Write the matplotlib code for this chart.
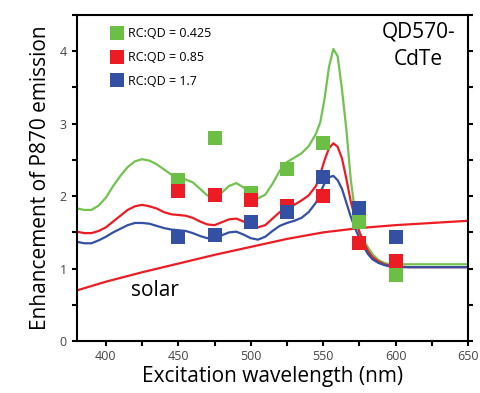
import matplotlib
matplotlib.use("Agg")
import matplotlib.pyplot as plt
from matplotlib.ticker import MultipleLocator

plt.rcParams['font.family'] = ['Open Sans', 'DejaVu Sans']

# measured enhancement (squares)
wl_pts = [450, 475, 500, 525, 550, 575, 600]
green_pts = [2.22, 2.80, 2.04, 2.38, 2.74, 1.65, 0.91]
red_pts = [2.07, 2.01, 1.94, 1.86, 2.00, 1.36, 1.11]
blue_pts = [1.43, 1.46, 1.65, 1.78, 2.26, 1.83, 1.44]

# calculated curves
wl = [380, 385, 390, 395, 400, 405, 410, 415, 420, 425, 430, 435, 440, 445,
      450, 455, 460, 465, 470, 475, 480, 485, 490, 495, 500, 505, 510, 515,
      520, 525, 530, 535, 540, 545, 548, 551, 554, 557, 560, 563, 566, 569,
      572, 575, 578, 581, 584, 588, 592, 596, 600, 610, 625, 650]
green_curve = [1.83, 1.81, 1.81, 1.87, 1.98, 2.14, 2.28, 2.40, 2.48, 2.51, 2.49, 2.44, 2.37, 2.30,
               2.25, 2.23, 2.19, 2.10, 2.01, 1.98, 2.05, 2.14, 2.18, 2.12, 2.03, 1.97, 2.02, 2.17,
               2.35, 2.47, 2.53, 2.59, 2.69, 2.86, 3.02, 3.35, 3.78, 4.03, 3.93, 3.47, 2.92, 2.24,
               1.77, 1.51, 1.39, 1.29, 1.20, 1.12, 1.08, 1.06, 1.06, 1.06, 1.06, 1.06]
red_curve = [1.51, 1.49, 1.49, 1.52, 1.57, 1.65, 1.73, 1.81, 1.86, 1.88, 1.86, 1.83, 1.78, 1.75,
             1.74, 1.73, 1.70, 1.65, 1.61, 1.60, 1.64, 1.68, 1.69, 1.65, 1.60, 1.57, 1.60, 1.69,
             1.78, 1.84, 1.88, 1.94, 2.01, 2.14, 2.30, 2.50, 2.66, 2.73, 2.68, 2.52, 2.24, 1.93,
             1.70, 1.50, 1.36, 1.24, 1.16, 1.10, 1.06, 1.04, 1.03, 1.02, 1.02, 1.02]
blue_curve = [1.37, 1.35, 1.35, 1.39, 1.44, 1.50, 1.55, 1.60, 1.63, 1.63, 1.62, 1.59, 1.56, 1.54,
              1.53, 1.52, 1.49, 1.45, 1.42, 1.43, 1.46, 1.50, 1.51, 1.47, 1.42, 1.40, 1.44, 1.52,
              1.59, 1.63, 1.66, 1.70, 1.78, 1.91, 2.05, 2.18, 2.26, 2.28, 2.22, 2.10, 1.91, 1.72,
              1.56, 1.42, 1.30, 1.20, 1.13, 1.08, 1.05, 1.03, 1.02, 1.02, 1.02, 1.02]

# solar spectrum reference
wl_solar = [380, 400, 425, 450, 475, 500, 525, 550, 575, 600, 625, 650]
solar = [0.70, 0.82, 0.95, 1.07, 1.19, 1.30, 1.41, 1.50, 1.56, 1.60, 1.63, 1.66]

labels = ['RC:QD = 0.425', 'RC:QD = 0.85', 'RC:QD = 1.7']
c_green, c_red, c_blue = '#6cbf45', '#ec1c24', '#3450a2'

fig = plt.figure(figsize=(4.81, 3.93), dpi=100)
ax = fig.add_axes([0.160, 0.132, 0.813, 0.830])

line_kw = dict(lw=1.6, zorder=2, solid_joinstyle='round', solid_capstyle='round')
ax.plot(wl_solar, solar, color=c_red, **line_kw)
ax.plot(wl, green_curve, color='#72c24f', **line_kw)
ax.plot(wl, red_curve, color=c_red, **line_kw)
ax.plot(wl, blue_curve, color=c_blue, **line_kw)

ms = 9.5
ax.plot(wl_pts, green_pts, 's', color=c_green, ms=ms, mew=0, label=labels[0], zorder=3)
ax.plot(wl_pts, red_pts, 's', color=c_red, ms=ms, mew=0, label=labels[1], zorder=4)
ax.plot(wl_pts, blue_pts, 's', color=c_blue, ms=ms, mew=0, label=labels[2], zorder=5)

ax.set_xlim(380, 650)
ax.set_ylim(0, 4.5)
ax.xaxis.set_major_locator(MultipleLocator(50))
ax.xaxis.set_minor_locator(MultipleLocator(25))
ax.yaxis.set_major_locator(MultipleLocator(1))
ax.yaxis.set_minor_locator(MultipleLocator(0.5))
ax.tick_params(which='both', direction='out', length=3.5, width=1.5,
               right=True, top=False, labelsize=9, labelcolor='#444444')
ax.tick_params(axis='x', pad=3)
ax.tick_params(axis='y', pad=4)
for sp in ax.spines.values():
    sp.set_linewidth(1.5)

ax.set_xlabel('Excitation wavelength (nm)', fontsize=15, labelpad=2)
ax.set_ylabel('Enhancement of P870 emission', fontsize=15, labelpad=6)

ax.text(616, 4.27, 'QD570-', fontsize=15, ha='center', va='center')
ax.text(616, 3.88, 'CdTe', fontsize=15, ha='center', va='center')
ax.text(417, 0.70, 'solar', fontsize=15, ha='left', va='center')

ax.legend(loc='upper left', bbox_to_anchor=(0.07, 0.985), frameon=False,
          fontsize=9, handlelength=0.8, handletextpad=0.5, labelspacing=0.85,
          borderaxespad=0.2)

fig.savefig('out.png', dpi=100)
